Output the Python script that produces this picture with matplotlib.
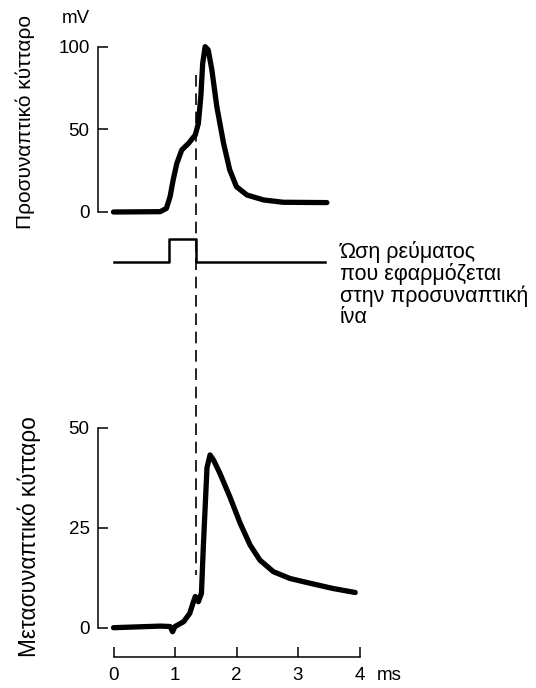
import matplotlib

matplotlib.use("Agg")
import matplotlib.pyplot as plt
from matplotlib.transforms import blended_transform_factory

plt.rcParams["font.family"] = ["Liberation Sans", "DejaVu Sans"]

# presynaptic action potential (mV) vs time (ms)
pre_t = [0.0, 0.76, 0.86, 0.92, 0.97, 1.03, 1.11, 1.22, 1.33, 1.38, 1.42,
         1.45, 1.49, 1.54, 1.6, 1.68, 1.79, 1.89, 2.0, 2.17, 2.44, 2.76, 3.47]
pre_v = [0, 0.2, 2.2, 9.3, 19.4, 29.5, 37.6, 41.6, 46.7, 53.7, 70,
         90, 100.2, 98.2, 86, 63.8, 41.6, 25.5, 15.3, 10.3, 7.3, 5.9, 5.7]

# current pulse applied to the presynaptic fibre (on/off)
stim_t = [0.0, 0.9, 0.9, 1.34, 1.34, 3.44]
stim_v = [0, 0, 1, 1, 0, 0]

# postsynaptic potential (mV)
post_t = [0.0, 0.76, 0.92, 0.96, 1.0, 1.14, 1.24, 1.3, 1.33, 1.38, 1.43,
          1.46, 1.49, 1.52, 1.57, 1.63, 1.73, 1.89, 2.06, 2.22, 2.38, 2.6,
          2.87, 3.2, 3.57, 3.93]
post_v = [0, 0.4, 0.3, -1.0, 0.3, 1.5, 3.6, 6.5, 7.8, 6.5, 8.6,
          20, 30, 40, 43.2, 41.8, 38.6, 32.8, 26.1, 20.7, 16.9, 14,
          12.3, 11.1, 9.8, 8.8]

stim_time = 1.34
x_ticks = [0, 1, 2, 3, 4]

W, H = 536, 688
X0, PX_MS = 113.5, 61.5
AX_L, AX_R = 98, 420
xlim = ((AX_L - X0) / PX_MS, (AX_R - X0) / PX_MS)
TICK_FS = 13.5


def add_ax(fig, top_px, bot_px):
    return fig.add_axes([AX_L / W, 1 - bot_px / H, (AX_R - AX_L) / W, (bot_px - top_px) / H])


fig = plt.figure(figsize=(W / 100, H / 100), dpi=100)

ax_pre = add_ax(fig, 10, 230)
ax_stim = add_ax(fig, 230, 275)
ax_post = add_ax(fig, 415, 657)

for ax in (ax_pre, ax_stim, ax_post):
    ax.set_xlim(*xlim)
    ax.patch.set_alpha(0)
    for s in ("top", "right"):
        ax.spines[s].set_visible(False)
    ax.tick_params(direction="in", length=7, width=1.1, labelsize=TICK_FS, pad=6)
    for s in ("left", "bottom"):
        ax.spines[s].set_linewidth(1.1)

ax_pre.set_ylim((212 - 230) / 1.65, (212 - 10) / 1.65)
ax_stim.set_ylim((261.7 - 275) / 22.7, (261.7 - 230) / 22.7)
ax_post.set_ylim((627.7 - 657) / 4, (627.7 - 415) / 4)

trace_kw = dict(color="black", lw=3.8, solid_capstyle="round", solid_joinstyle="round")

ax_pre.plot(pre_t, pre_v, **trace_kw)
ax_pre.spines["bottom"].set_visible(False)
ax_pre.spines["left"].set_bounds(0, 100)
ax_pre.set_yticks([0, 50, 100])
ax_pre.set_xticks([])
ax_pre.text(-0.62, 117, "mV", ha="center", va="center", fontsize=TICK_FS)

ax_stim.plot(stim_t, stim_v, color="black", lw=1.8)
ax_stim.axis("off")

ax_post.plot(post_t, post_v, **trace_kw)
ax_post.spines["left"].set_bounds(0, 50)
ax_post.spines["bottom"].set_bounds(0, 4)
ax_post.set_yticks([0, 25, 50])
ax_post.set_xticks(x_ticks)
ax_post.tick_params(axis="x", pad=7)
ax_post.text(4.28, (627.7 - 675) / 4, "ms", ha="left", va="center", fontsize=TICK_FS,
             clip_on=False)

# dashed marker at the end of the stimulus, across all panels
trans = blended_transform_factory(ax_post.transData, fig.transFigure)
ax_post.plot([stim_time, stim_time], [1 - 75 / H, 1 - 575 / H], transform=trans,
             color="black", lw=1.2, ls=(0, (7, 4)), clip_on=False)

fig.text(340 / W, 1 - 241 / H,
         "Ώση ρεύματος\nπου εφαρμόζεται\nστην προσυναπτική\nίνα",
         ha="left", va="top", fontsize=15.5, linespacing=1.0)

fig.text(25 / W, 1 - 122 / H, "Προσυναπτικό κύτταρο", rotation=90,
         ha="center", va="center", fontsize=15)
fig.text(29 / W, 1 - 537 / H, "Μετασυναπτικό κύτταρο", rotation=90,
         ha="center", va="center", fontsize=16.3)

fig.savefig("out.png", dpi=100)
